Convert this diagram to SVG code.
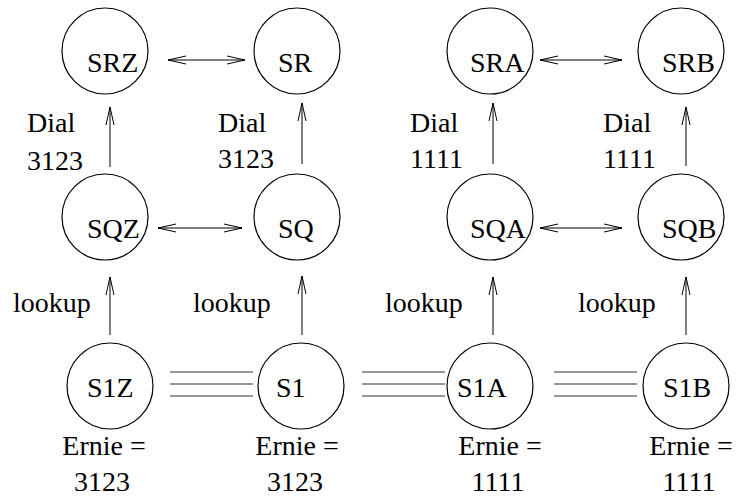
<svg xmlns="http://www.w3.org/2000/svg" width="739" height="498" viewBox="0 0 739 498">
  <style>
    text { font-family: 'Liberation Serif', 'DejaVu Serif', serif; font-size: 28px; fill: #000; }
    .node circle { fill: none; stroke: #000; stroke-width: 1.2; }
    .conn line { stroke: #000; stroke-width: 1; fill: none; }
    .trunk line { stroke: #333; stroke-width: 1.2; }
    .mid text { text-anchor: middle; }
  </style>
  <defs>
    <marker id="head" viewBox="0 0 20 10" refX="19" refY="5" markerWidth="20" markerHeight="10" markerUnits="userSpaceOnUse" orient="auto-start-reverse">
      <path d="M1,1 L19,5 L1,9" fill="none" stroke="#000" stroke-width="1"/>
    </marker>
  </defs>

  <rect width="739" height="498" fill="#fff"/>

  <!-- top row: SR nodes -->
  <g id="SRZ" class="node"><circle cx="105" cy="51" r="43"/><text x="87" y="72" font-family="Liberation Serif, serif">SRZ</text></g>
  <g id="SR" class="node"><circle cx="297" cy="51" r="43"/><text x="278" y="72" font-family="Liberation Serif, serif">SR</text></g>
  <g id="SRA" class="node"><circle cx="490" cy="51" r="43"/><text x="470" y="72" font-family="Liberation Serif, serif">SRA</text></g>
  <g id="SRB" class="node"><circle cx="681" cy="51" r="43"/><text x="662" y="72" font-family="Liberation Serif, serif">SRB</text></g>

  <!-- middle row: SQ nodes -->
  <g id="SQZ" class="node"><circle cx="105" cy="217" r="43"/><text x="87" y="238" font-family="Liberation Serif, serif">SQZ</text></g>
  <g id="SQ" class="node"><circle cx="297" cy="217" r="43"/><text x="278" y="238" font-family="Liberation Serif, serif">SQ</text></g>
  <g id="SQA" class="node"><circle cx="490" cy="217" r="43"/><text x="470" y="238" font-family="Liberation Serif, serif">SQA</text></g>
  <g id="SQB" class="node"><circle cx="681" cy="217" r="43"/><text x="662" y="238" font-family="Liberation Serif, serif">SQB</text></g>

  <!-- bottom row: S1 nodes -->
  <g id="S1Z" class="node"><circle cx="110" cy="386" r="43"/><text x="87" y="397" font-family="Liberation Serif, serif">S1Z</text></g>
  <g id="S1" class="node"><circle cx="301" cy="386" r="43"/><text x="276" y="397" font-family="Liberation Serif, serif">S1</text></g>
  <g id="S1A" class="node"><circle cx="490" cy="386" r="43"/><text x="457" y="397" font-family="Liberation Serif, serif">S1A</text></g>
  <g id="S1B" class="node"><circle cx="686" cy="386" r="43"/><text x="663" y="397" font-family="Liberation Serif, serif">S1B</text></g>

  <!-- connectors -->
  <g id="connectors" class="conn">
    <!-- two-way links between neighbours -->
    <line x1="168" y1="60" x2="245" y2="60" marker-start="url(#head)" marker-end="url(#head)"/>
    <line x1="540" y1="60" x2="622" y2="60" marker-start="url(#head)" marker-end="url(#head)"/>
    <line x1="158" y1="228" x2="242" y2="228" marker-start="url(#head)" marker-end="url(#head)"/>
    <line x1="540" y1="228" x2="622" y2="228" marker-start="url(#head)" marker-end="url(#head)"/>

    <!-- dial: SQ row up to SR row -->
    <line x1="110" y1="167" x2="110" y2="107" marker-end="url(#head)"/>
    <line x1="302" y1="164" x2="302" y2="103" marker-end="url(#head)"/>
    <line x1="493" y1="164" x2="493" y2="103" marker-end="url(#head)"/>
    <line x1="686" y1="166" x2="686" y2="107" marker-end="url(#head)"/>

    <!-- lookup: S1 row up to SQ row -->
    <line x1="110" y1="335" x2="110" y2="277" marker-end="url(#head)"/>
    <line x1="302" y1="335" x2="302" y2="276" marker-end="url(#head)"/>
    <line x1="493" y1="335" x2="493" y2="277" marker-end="url(#head)"/>
    <line x1="686" y1="335" x2="686" y2="277" marker-end="url(#head)"/>

    <!-- trunks between S1 nodes -->
    <g class="trunk">
      <line x1="170" y1="372" x2="253" y2="372"/>
      <line x1="170" y1="384" x2="253" y2="384"/>
      <line x1="170" y1="396" x2="253" y2="396"/>
      <line x1="362" y1="372" x2="445" y2="372"/>
      <line x1="362" y1="384" x2="445" y2="384"/>
      <line x1="362" y1="396" x2="445" y2="396"/>
      <line x1="554" y1="372" x2="637" y2="372"/>
      <line x1="554" y1="384" x2="637" y2="384"/>
      <line x1="554" y1="396" x2="637" y2="396"/>
    </g>
  </g>

  <!-- dial labels -->
  <g id="dial-labels" font-family="Liberation Serif, serif">
    <text x="27" y="132">Dial</text><text x="27" y="170">3123</text>
    <text x="218" y="132">Dial</text><text x="218" y="168">3123</text>
    <text x="410" y="132">Dial</text><text x="410" y="168">1111</text>
    <text x="603" y="132">Dial</text><text x="603" y="168">1111</text>
  </g>

  <!-- lookup labels -->
  <g id="lookup-labels" font-family="Liberation Serif, serif">
    <text x="13" y="312">lookup</text>
    <text x="193" y="312">lookup</text>
    <text x="385" y="312">lookup</text>
    <text x="578" y="312">lookup</text>
  </g>

  <!-- number held by each S1 node -->
  <g id="ernie-labels" class="mid" font-family="Liberation Serif, serif">
    <text x="104" y="455">Ernie =</text><text x="102" y="491">3123</text>
    <text x="297" y="455">Ernie =</text><text x="295" y="491">3123</text>
    <text x="500" y="455">Ernie =</text><text x="498" y="491">1111</text>
    <text x="691" y="455">Ernie =</text><text x="689" y="491">1111</text>
  </g>
</svg>
